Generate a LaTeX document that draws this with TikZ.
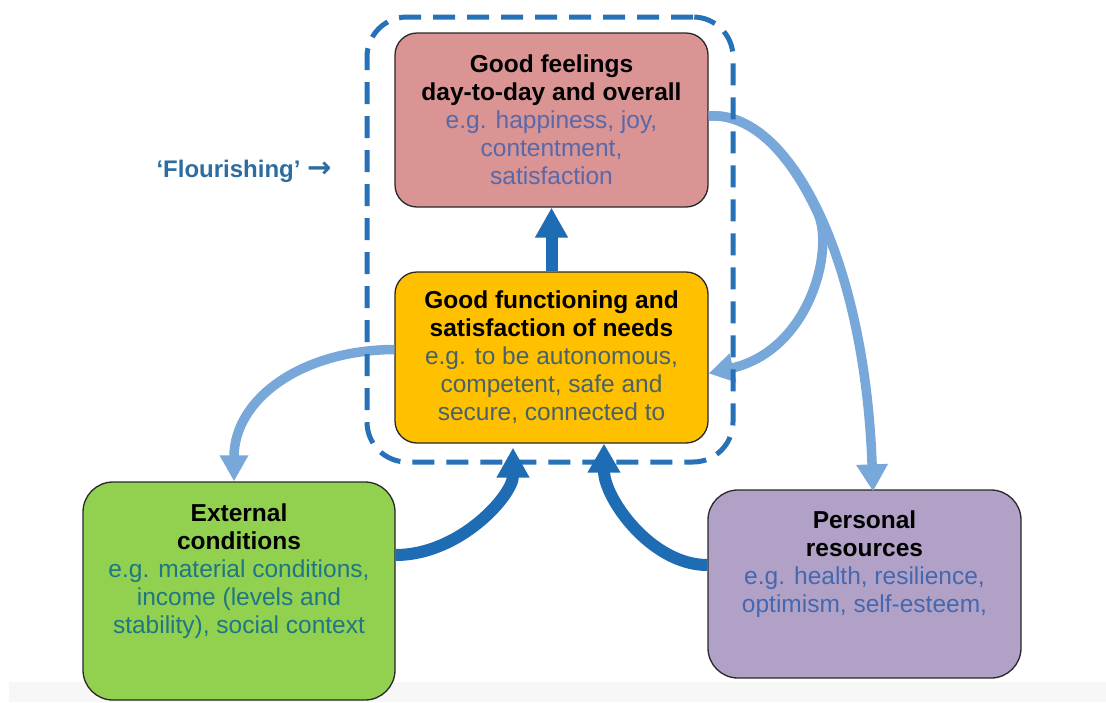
\documentclass[tikz,border=0pt]{standalone}
\usepackage{fontspec}
\setmainfont{Liberation Sans}
\newfontfamily\arrowfont{DejaVu Sans}
\usetikzlibrary{arrows.meta,calc}

\definecolor{pinkfill}{RGB}{217,148,147}
\definecolor{yellowfill}{RGB}{255,192,0}
\definecolor{greenfill}{RGB}{146,208,80}
\definecolor{purplefill}{RGB}{178,161,199}
\definecolor{boxedge}{RGB}{40,40,40}
\definecolor{darkarrow}{RGB}{30,108,180}
\definecolor{lightarrow}{RGB}{120,168,218}
\definecolor{dashblue}{RGB}{38,113,184}
\definecolor{flourishblue}{RGB}{45,108,160}
\definecolor{txtpink}{RGB}{88,104,170}
\definecolor{txtyellow}{RGB}{72,98,108}
\definecolor{txtgreen}{RGB}{32,118,132}
\definecolor{txtpurple}{RGB}{68,104,176}
\definecolor{bandgray}{RGB}{247,247,247}

\begin{document}
\begin{tikzpicture}[x=1pt,y=-1pt,
  box/.style={draw=boxedge, line width=1.3pt, rounded corners=#1, inner sep=0pt},
  box/.default=22pt,
  boxtext/.style={font=\fontsize{24.5}{28}\selectfont, align=center, inner sep=0pt},
  lightflow/.style={draw=lightarrow, line width=9.5pt},
  darkflow/.style={draw=darkarrow, line width=12pt}
]
% canvas and faint grey strip along the bottom
\fill[white] (0,0) rectangle (1106,702);
\useasboundingbox (0,0) rectangle (1106,702);
\fill[bandgray] (9,682) rectangle (1106,702);

% the four boxes
\node[box, fill=pinkfill, minimum width=313pt, minimum height=174pt, boxtext]
  (pink) at (551.5,120)
  {\textbf{Good feelings}\\
   \textbf{day-to-day and overall}\\
   \textcolor{txtpink}{e.g. happiness, joy,}\\
   \textcolor{txtpink}{contentment,}\\
   \textcolor{txtpink}{satisfaction}};

\node[box, fill=yellowfill, minimum width=313pt, minimum height=171pt, boxtext]
  (yellow) at (551.5,357.5)
  {\textbf{Good functioning and}\\
   \textbf{satisfaction of needs}\\
   \textcolor{txtyellow}{e.g. to be autonomous,}\\
   \textcolor{txtyellow}{competent, safe and}\\
   \textcolor{txtyellow}{secure, connected to}};

\node[box=30pt, fill=greenfill, minimum width=312pt, minimum height=218pt]
  (green) at (239,591) {};
\node[boxtext, anchor=north] (greentext) at (239,504)
  {\textbf{External}\\
   \textbf{conditions}\\
   \textcolor{txtgreen}{e.g. material conditions,}\\
   \textcolor{txtgreen}{income (levels and}\\
   \textcolor{txtgreen}{stability), social context}};

\node[box=30pt, fill=purplefill, minimum width=313pt, minimum height=188pt]
  (purple) at (864.5,584) {};
\node[boxtext, anchor=north] (purpletext) at (864.5,511)
  {\textbf{Personal}\\
   \textbf{resources}\\
   \textcolor{txtpurple}{e.g. health, resilience,}\\
   \textcolor{txtpurple}{optimism, self-esteem,}};

% light feedback arrows (the two from the top box share their first stretch)
\draw[lightflow, -{Triangle[width=30pt,length=27pt]}]
  ($(pink.east)+(0,-4)$) .. controls (790,110) and (865,260) .. ($(purple.north)+(8.5,2)$);
\draw[lightflow, -{Triangle[width=28pt,length=25pt]}]
  ($(pink.east)+(0,-4)$) .. controls (749,113) and (788.25,149) .. (818.25,214.25)
  .. controls (834,250) and (810,350) .. ($(yellow.east)+(0,16)$);
\draw[lightflow, -{Triangle[width=27pt,length=26pt]}]
  ($(yellow.west)+(0,-8)$) .. controls (300,350) and (234,400) .. ($(green.north)+(-5,0)$);

% dashed frame around the flourishing pair
\node[draw=dashblue, line width=5pt, dash pattern=on 22pt off 12pt,
      rounded corners=40pt, minimum width=366pt, minimum height=445pt, inner sep=0pt]
  (flourframe) at (550,239.5) {};

% dark driving arrows
\draw[darkflow, -{Triangle[width=31pt,length=30pt]}]
  (yellow.north) -- (pink.south);
\draw[darkflow, -{Triangle[width=31pt,length=30pt]}]
  ($(green.east)+(0,-36)$) .. controls (460,555) and (513,495) .. ($(yellow.south)+(-38.5,4)$);
\draw[darkflow, -{Triangle[width=31pt,length=29pt]}]
  ($(purple.west)+(0,-19)$) .. controls (651,565) and (604,498) .. ($(yellow.south)+(52.5,0)$);

% label for the dashed frame
\node[font=\fontsize{24}{28}\selectfont\bfseries, text=flourishblue, anchor=base, inner sep=0pt]
  (flourish) at (244,177) {‘Flourishing’ {\arrowfont\bfseries\fontsize{29}{29}\selectfont →}};
\end{tikzpicture}
\end{document}
